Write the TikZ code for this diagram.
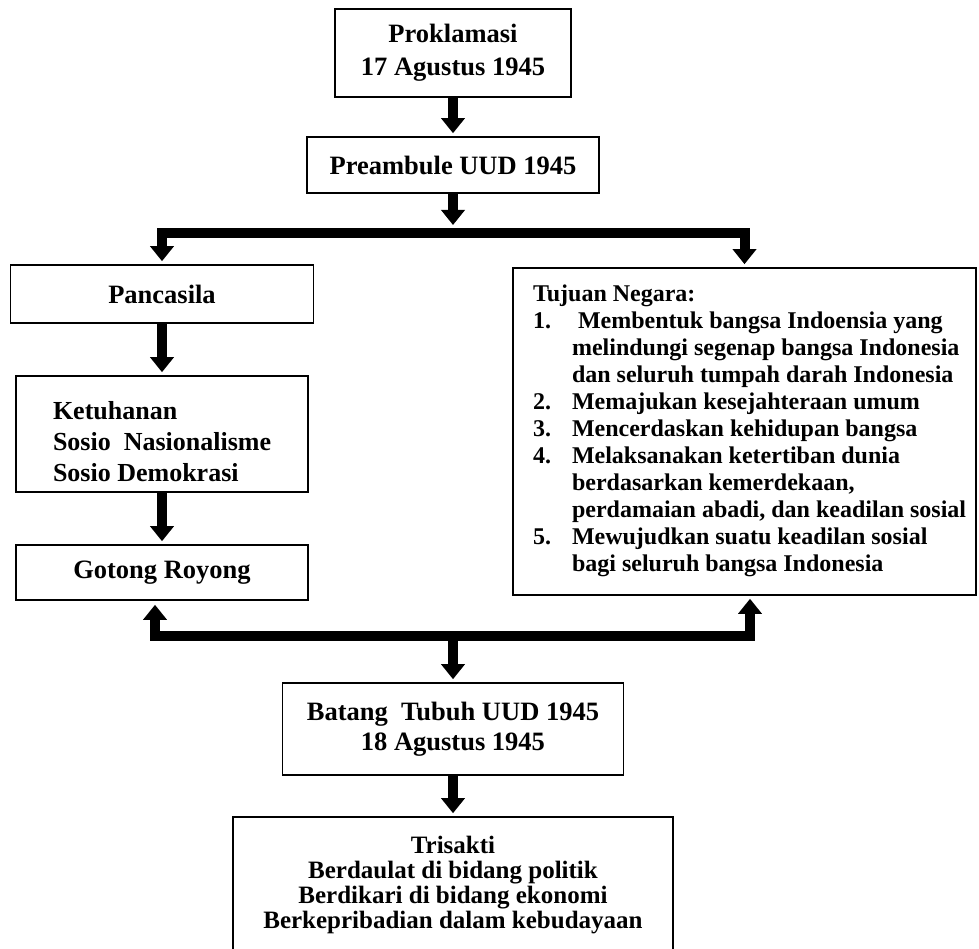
\documentclass[tikz,border=0pt]{standalone}
\usepackage{fontspec}
\setmainfont{Liberation Serif}
\usetikzlibrary{arrows.meta,positioning,calc}

\begin{document}
\begin{tikzpicture}[x=1pt,y=-1pt,>={Triangle[width=23pt,length=15pt]},
  box/.style={draw,line width=1.6pt,inner sep=0pt,align=center,
    font=\fontsize{26.5}{30}\selectfont\bfseries},
  fat/.style={line width=10pt,line join=miter,shorten >=3pt}]
\useasboundingbox (0,0) rectangle (979,949);
\clip (0,0) rectangle (979,949);

% top of the chart
\node[box,minimum width=236pt,minimum height=88pt] (prok) at (453,53) {Proklamasi\\[3pt]17 Agustus 1945};
\node[box,minimum width=292pt,minimum height=56pt] (pre) at (453,165) {Preambule UUD 1945};

% left column
\node[box,minimum width=303pt,minimum height=58pt] (pan) at (162,294) {Pancasila};
\node[box,minimum width=292pt,minimum height=116pt,font=\fontsize{26}{29}\selectfont\bfseries] (ket) at (162,434)
  {\raisebox{-17pt}[0pt][0pt]{\makebox[218pt][l]{\begin{tabular}{@{}l@{}}
  Ketuhanan\\[2pt] Sosio\ \ Nasionalisme\\[2pt] Sosio Demokrasi\end{tabular}}}};
\node[box,minimum width=292pt,minimum height=55pt] (got) at (162,572.5) {Gotong Royong};

% right column
\node[box,minimum width=463pt,minimum height=327pt,font=\fontsize{24}{27}\selectfont\bfseries] (tuj) at (744.5,431.5)
  {\makebox[423pt][l]{\begin{tabular}{@{}l@{}l@{}}
  \multicolumn{2}{@{}l@{}}{Tujuan Negara:}\\
  \makebox[39pt][l]{1.} & \ Membentuk bangsa Indoensia yang\\
   & melindungi segenap bangsa Indonesia\\
   & dan seluruh tumpah darah Indonesia\\
  2. & Memajukan kesejahteraan umum\\
  3. & Mencerdaskan kehidupan bangsa\\
  4. & Melaksanakan ketertiban dunia\\
   & berdasarkan kemerdekaan,\\
   & perdamaian abadi, dan keadilan sosial\\
  5. & Mewujudkan suatu keadilan sosial\\
   & bagi seluruh bangsa Indonesia\end{tabular}}};

% bottom
\node[box,minimum width=341pt,minimum height=92pt] (bat) at (453,729) {Batang\ \ Tubuh UUD 1945\\18 Agustus 1945};
\node[box,minimum width=440pt,minimum height=136pt,font=\fontsize{25}{25}\selectfont\bfseries] (tri) at (453,885)
  {Trisakti\\Berdaulat di bidang politik\\Berdikari di bidang ekonomi\\Berkepribadian dalam kebudayaan};

\coordinate (split) at (453,233);
\coordinate (gl) at (155,635.5);
\coordinate (gr) at (750,635.5);
\coordinate (join) at (453,635.5);

\foreach \a/\b in {prok/pre,pan/ket,ket/got,bat/tri}
  \draw[fat,->] (\a) -- (\b);
\draw[fat,->,shorten >=8pt] (pre) -- (split);
\draw[fat,<->,shorten <=3pt] (pan.north) -- (pan.north |- split) -- (tuj.north |- split) -- (tuj.north);
\draw[fat,<->,shorten <=4pt] (got.south -| gl) -- (gl) -- (gr) -- (tuj.south -| gr);
\draw[fat,->] (join) -- (bat.north);
\end{tikzpicture}
\end{document}
